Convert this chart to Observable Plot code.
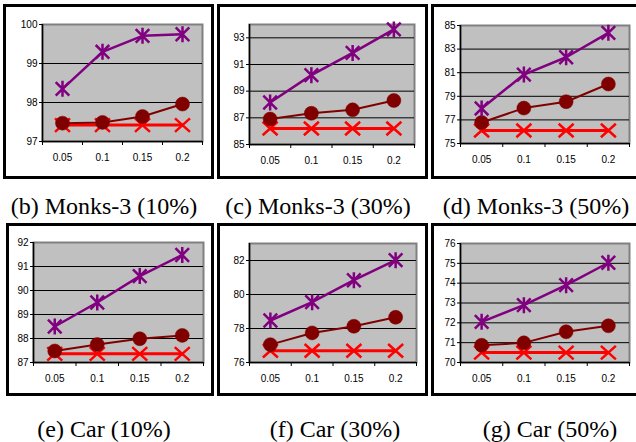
<!DOCTYPE html>
<html><head><meta charset="utf-8">
<script src="https://cdn.jsdelivr.net/npm/d3@7"></script>
<script src="https://cdn.jsdelivr.net/npm/@observablehq/plot@0.6"></script>
<style>
body{margin:0;background:#fff;}
#root{position:relative;width:636px;height:442px;overflow:hidden;background:#fff;}
.panel{position:absolute;}
.border{position:absolute;border:3px solid #000;box-sizing:border-box;pointer-events:none;}
.cap{position:absolute;font-family:"Liberation Serif","Times New Roman",Times,serif;font-size:24px;line-height:24px;white-space:nowrap;transform:translate(-50%,-50%);color:#000;}
</style></head><body><div id="root"></div>
<script>
// ---- data ----
const xLabels = ["0.05", "0.1", "0.15", "0.2"];
const captions = ["(b) Monks-3 (10%)", "(c) Monks-3 (30%)", "(d) Monks-3 (50%)", "(e) Car (10%)", "(f) Car (30%)", "(g) Car (50%)"];

const monks10Star   = [98.35, 99.30, 99.71, 99.75];
const monks10Circle = [97.47, 97.49, 97.64, 97.96];
const monks10Cross  = [97.42, 97.42, 97.42, 97.42];

const monks30Star   = [88.15, 90.20, 91.87, 93.63];
const monks30Circle = [86.91, 87.34, 87.60, 88.30];
const monks30Cross  = [86.20, 86.20, 86.20, 86.20];

const monks50Star   = [77.97, 80.84, 82.31, 84.38];
const monks50Circle = [76.78, 78.00, 78.54, 80.04];
const monks50Cross  = [76.10, 76.10, 76.10, 76.10];

const car10Star   = [88.50, 89.50, 90.60, 91.48];
const car10Circle = [87.48, 87.75, 87.99, 88.13];
const car10Cross  = [87.36, 87.36, 87.36, 87.36];

const car30Star   = [78.47, 79.55, 80.84, 82.02];
const car30Circle = [77.05, 77.74, 78.13, 78.66];
const car30Cross  = [76.69, 76.69, 76.69, 76.69];

const car50Star   = [72.05, 72.89, 73.90, 75.03];
const car50Circle = [70.87, 70.99, 71.55, 71.85];
const car50Cross  = [70.50, 70.50, 70.50, 70.50];

const yDomains = [[97, 100], [85, 94], [75, 85], [87, 92], [76, 83], [70, 76]];
const yTicks = [
  [97, 98, 99, 100],
  [85, 87, 89, 91, 93],
  [75, 77, 79, 81, 83, 85],
  [87, 88, 89, 90, 91, 92],
  [76, 78, 80, 82],
  [70, 71, 72, 73, 74, 75, 76]
];

// ---- layout (pixels) ----
const boxes = [[3, 4, 214, 179], [217, 4, 428, 179], [431, 4, 640, 179],
               [6, 223, 214, 396], [217, 223, 428, 396], [431, 223, 640, 396]];
const areas = [[42, 24, 202, 141], [249, 24, 414, 144], [460, 25, 629, 143],
               [33, 242, 203, 362], [249, 243, 416, 362], [460, 243, 629, 362]];
const capPos = [[104, 206], [318, 206], [536, 206], [104, 429], [335, 429], [550, 429]];

const series = [
  [monks10Star, monks10Circle, monks10Cross],
  [monks30Star, monks30Circle, monks30Cross],
  [monks50Star, monks50Circle, monks50Cross],
  [car10Star, car10Circle, car10Cross],
  [car30Star, car30Circle, car30Cross],
  [car50Star, car50Circle, car50Cross]
];

const PURPLE = "#800080", DARKRED = "#800000", RED = "#ff0000";

const starSym = {draw(ctx, size) {
  const r = Math.sqrt(size / Math.PI), d = r * 0.85;
  ctx.moveTo(0, -r); ctx.lineTo(0, r);
  ctx.moveTo(-d, -d); ctx.lineTo(d, d);
  ctx.moveTo(-d, d); ctx.lineTo(d, -d);
}};
const crossSym = {draw(ctx, size) {
  const r = Math.sqrt(size / Math.PI);
  ctx.moveTo(-r, -r * 0.9); ctx.lineTo(r, r * 0.9);
  ctx.moveTo(-r, r * 0.9); ctx.lineTo(r, -r * 0.9);
}};

const root = document.getElementById("root");

series.forEach((s, k) => {
  const [bl, bt, br, bb] = boxes[k];
  const [al, at, ar, ab] = areas[k];
  const rows = (arr) => arr.map((v, i) => ({x: i + 1, y: v}));
  const [star, circ, cross] = s.map(rows);
  const n = xLabels.length;
  const dom = yDomains[k];
  const innerTicks = yTicks[k].filter(t => t > dom[0] && t < dom[1]);

  const chart = Plot.plot({
    width: br - bl, height: bb - bt,
    marginLeft: al - bl, marginTop: at - bt, marginRight: br - ar, marginBottom: bb - ab,
    x: {type: "linear", domain: [0.5, n + 0.5], axis: null},
    y: {type: "linear", domain: dom, axis: null},
    style: {fontFamily: "'Liberation Sans', Arial, sans-serif", fontSize: "10px", color: "#000", background: "transparent", overflow: "visible"},
    marks: [
      Plot.frame({fill: "#c0c0c0", stroke: "#808080", strokeWidth: 2}),
      Plot.gridY(innerTicks, {stroke: "#000", strokeOpacity: 1, strokeWidth: 1}),
      Plot.ruleX([dom[0]].map(() => 0.5), {stroke: "#000", strokeWidth: 1.5}),
      Plot.ruleY([dom[0]], {stroke: "#000", strokeWidth: 1.5}),
      Plot.axisY(yTicks[k], {label: null, tickSize: 3, tickPadding: 2, stroke: "#000", strokeWidth: 1}),
      Plot.axisX(d3.range(0, n + 1).map(i => i + 0.5), {label: null, tickSize: 4, tickFormat: () => "", stroke: "#000", strokeWidth: 1}),
      Plot.axisX(d3.range(1, n + 1), {label: null, tickSize: 0, tickPadding: 12, tickFormat: i => xLabels[i - 1]}),
      Plot.line(cross, {x: "x", y: "y", stroke: RED, strokeWidth: 3}),
      Plot.dot(cross, {x: "x", y: "y", symbol: crossSym, r: 7.5, fill: "none", stroke: RED, strokeWidth: 2.5}),
      Plot.line(circ, {x: "x", y: "y", stroke: DARKRED, strokeWidth: 2}),
      Plot.dot(circ, {x: "x", y: "y", symbol: "circle", r: 7, fill: DARKRED, stroke: DARKRED, strokeWidth: 0.5}),
      Plot.line(star, {x: "x", y: "y", stroke: PURPLE, strokeWidth: 2.5}),
      Plot.dot(star, {x: "x", y: "y", symbol: starSym, r: 8, fill: "none", stroke: PURPLE, strokeWidth: 2.5})
    ]
  });
  chart.classList.add("panel");
  chart.style.left = bl + "px";
  chart.style.top = bt + "px";
  root.appendChild(chart);

  const b = document.createElement("div");
  b.className = "border";
  b.style.left = bl + "px"; b.style.top = bt + "px";
  b.style.width = (br - bl) + "px"; b.style.height = (bb - bt) + "px";
  root.appendChild(b);

  const c = document.createElement("div");
  c.className = "cap";
  c.textContent = captions[k];
  c.style.left = capPos[k][0] + "px"; c.style.top = capPos[k][1] + "px";
  root.appendChild(c);
});
</script>
</body></html>
